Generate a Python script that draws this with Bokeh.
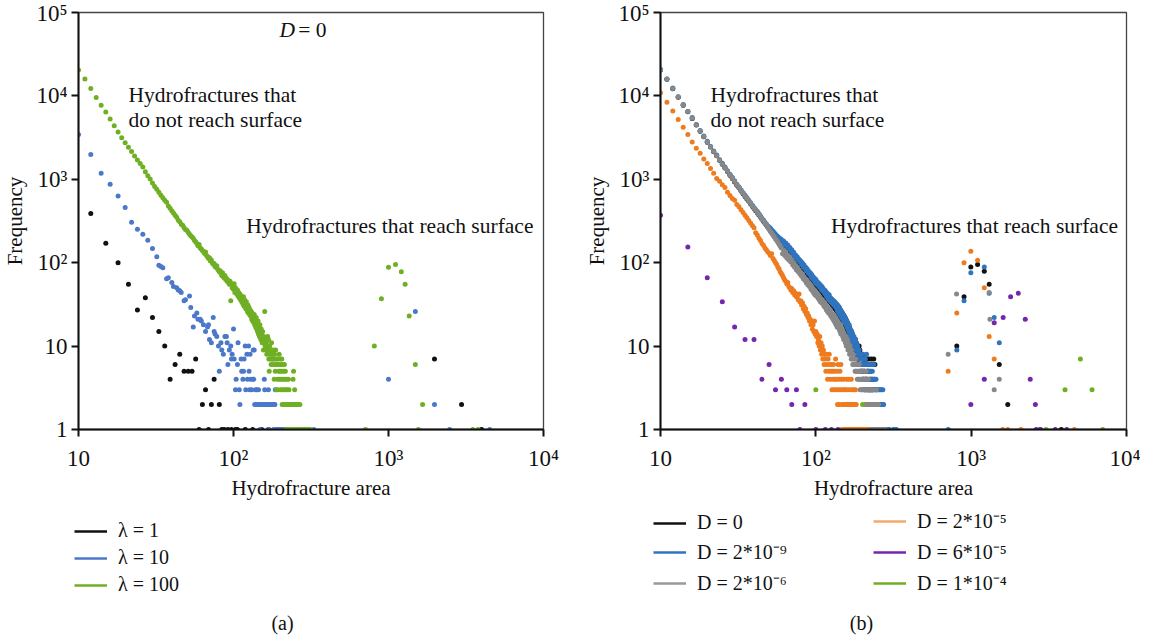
from bokeh.plotting import figure
from bokeh.models import FixedTicker, Label, Legend, LegendItem
from bokeh.layouts import row, column
from bokeh.embed import file_html
from bokeh.resources import INLINE

SERIF = "Liberation Serif"
X_TICKS = [10, 100, 1000, 10000]
X_TICK_LABELS = {10: "10", 100: "10\u00b2", 1000: "10\u00b3", 10000: "10\u2074"}
Y_TICKS = [1, 10, 100, 1000, 10000, 100000]
Y_TICK_LABELS = {1: "1", 10: "10", 100: "10\u00b2", 1000: "10\u00b3",
                 10000: "10\u2074", 100000: "10\u2075"}

# ---------------- panel (a): D = 0, different lambda ----------------
LAM100_START = 10
LAM100_FREQ = [
    20500, 15900, 12300, 9600, 7700, 6400, 5300, 4400, 3700, 3150,
    2750, 2420, 2150, 1900, 1700, 1550, 1400, 1230, 1100, 1010,
    900, 820, 760, 700, 645, 600, 560, 530, 480, 450,
    420, 395, 370, 350, 323, 310, 290, 282, 262, 250,
    245, 232, 220, 210, 204, 196, 185, 178, 170, 160,
    165, 150, 146, 140, 136, 129, 134, 122, 118, 112,
    115, 105, 108, 100, 96, 98, 90, 88, 92, 84,
    81, 78, 80, 74, 70, 76, 68, 66, 70, 63,
    65, 60, 62, 58, 55, 60, 35, 56, 50, 54,
    48, 56, 44, 50, 45, 42, 47, 40, 44, 38,
    42, 36, 40, 34, 38, 32, 39, 30, 36, 33,
    28, 34, 30, 26, 31, 25, 29, 24, 27, 23,
    26, 21, 25, 20, 23, 19, 24, 18, 21, 17,
    22, 16, 19, 15, 20, 14, 17, 13, 18, 15,
    12, 16, 14, 11, 15, 12, 9, 13, 11, 26,
    10, 12, 9, 11, 8, 10, 13, 9, 12, 7,
    5, 10, 8, 7, 9, 6, 11, 7, 8, 7,
    9, 6, 7, 4, 8, 7, 5, 9, 6, 3,
    7, 6, 4, 7, 3, 6, 5, 8, 4, 5,
    7, 6, 3, 4, 5, 7, 2, 6, 3, 4,
    2, 5, 3, 6, 4, 2, 5, 1, 3, 2,
    4, 1, 2, 3, 1, 2, 4, 0, 3, 2,
    1, 2, 0, 1, 2, 0, 1, 2, 1, 0,
    2, 1, 4, 0, 5, 1, 2, 0, 3, 1,
    2, 0, 1, 2, 1, 0, 2, 1, 0, 1,
    2, 1, 0, 1, 2, 0, 1, 0, 2, 1,
    0, 1, 0, 1, 0, 1, 0, 1, 1, 0,
    1, 0, 1, 0, 1, 1, 0, 1, 0, 1,
    0, 1, 1, 0, 1, 0, 1, 0, 0, 1,
    0, 1, 0, 1, 0, 0, 1, 0, 0, 1, 0, 0, 0, 1,
]
LAM100_SURF_AREA = [710, 810, 900, 1000, 1110, 1210, 1280, 1360, 1490, 1560, 1660, 3500, 3780]
LAM100_SURF_FREQ = [1, 10, 37, 88, 95, 78, 55, 23, 6, 1, 2, 1, 1]

LAM10_AREA = [10, 12, 14, 16, 18, 20, 22, 24, 26, 28, 30, 32, 33, 34, 35, 37, 38, 40, 41, 43,
              44, 45, 46, 48, 49, 52, 53, 55, 56, 58, 59, 61, 62, 64, 66, 68, 69, 70, 72, 74,
              75, 76, 78, 80, 81, 83, 84, 86, 88, 90, 91, 92, 94, 96, 97, 98, 100, 101, 103, 104,
              106, 107, 109, 110, 112, 113, 115, 116, 117, 119, 120, 122, 123, 125, 126, 127, 128, 129, 131, 133,
              134, 135, 136, 137, 139, 140, 141, 143, 145, 146, 148, 150, 152, 154, 156, 158, 159, 160, 162, 164,
              166, 168, 169, 171, 173, 175, 177, 179, 181, 183, 185, 186, 188, 191, 195, 199, 203, 207, 212, 216,
              330, 1000, 1490, 1980, 2480, 4500]
LAM10_FREQ = [3450, 1990, 1180, 870, 630, 460, 305, 252, 220, 186, 148, 118, 93, 90, 87, 64, 66, 58, 52, 50,
              47, 46, 44, 35, 36, 40, 29, 17, 23, 25, 21, 21, 20, 18, 15, 17, 18, 12, 11, 22,
              15, 14, 13, 10, 5, 11, 9, 8, 13, 13, 11, 6, 9, 10, 7, 8, 16, 7, 3, 4,
              6, 11, 3, 2, 7, 5, 4, 5, 7, 10, 3, 8, 4, 10, 5, 3, 8, 4, 3, 4,
              9, 4, 9, 2, 3, 2, 3, 2, 3, 2, 1, 2, 2, 2, 2, 4, 3, 2, 2, 2,
              2, 3, 1, 2, 2, 2, 2, 2, 1, 2, 2, 3, 1, 1, 1, 1, 1, 1, 1, 1,
              1, 4, 26, 2, 1, 1]

LAM1_AREA = [12, 15, 18, 21, 24, 27, 30, 33, 36, 39, 42, 45, 48, 51, 54, 57, 60, 63, 66, 69,
             72, 75, 81, 84, 87, 92, 97, 103, 106, 119, 133, 152, 168, 1980, 2960, 3980]
LAM1_FREQ = [390, 171, 100, 55, 27, 38, 22, 15, 10, 4, 6, 8, 5, 5, 5, 7, 1, 2, 3, 1,
             2, 4, 2, 1, 1, 1, 1, 1, 1, 1, 1, 1, 1, 7, 2, 1]

# ---------------- panel (b): lambda = 100, different D ----------------
D0_START = 10
D0_FREQ = [
    20400, 15800, 12200, 9650, 7750, 6450, 5350, 4480, 3780, 3230,
    2790, 2440, 2140, 1910, 1690, 1520, 1370, 1240, 1120, 1020,
    930, 850, 790, 725, 672, 622, 582, 545, 508, 475,
    446, 420, 396, 372, 352, 332, 315, 298, 283, 268,
    256, 243, 233, 222, 213, 203, 196, 187, 180, 172,
    176, 162, 168, 152, 159, 145, 150, 136, 141, 129,
    133, 119, 124, 111, 116, 104, 108, 98, 102, 93,
    97, 88, 92, 83, 86, 79, 82, 75, 78, 71,
    74, 68, 71, 64, 67, 61, 64, 58, 61, 55,
    59, 53, 56, 50, 53, 48, 51, 46, 49, 44,
    47, 43, 45, 41, 44, 39, 42, 37, 40, 36,
    39, 35, 38, 34, 36, 33, 35, 31, 34, 30,
    34, 29, 33, 28, 32, 27, 31, 26, 30, 25,
    29, 24, 28, 23, 27, 22, 26, 21, 25, 20,
    24, 19, 23, 18, 22, 17, 21, 16, 20, 16,
    19, 15, 18, 14, 17, 13, 16, 12, 15, 12,
    15, 11, 14, 10, 13, 10, 12, 9, 12, 9,
    12, 8, 11, 8, 10, 7, 10, 7, 9, 7,
    10, 6, 9, 6, 8, 5, 8, 6, 7, 5,
    8, 5, 7, 4, 7, 5, 6, 3, 7, 4,
    7, 4, 6, 3, 7, 5, 6, 2, 5, 3,
    7, 3, 6, 2, 4, 3, 5, 2, 7, 3,
    4, 2, 6, 3, 2, 1, 7, 2, 4, 1,
    6, 2, 1, 3, 1,
]
D0_SURF_AREA = [808, 900, 995, 1100, 1215, 1306, 1517, 1720, 3800]
D0_SURF_FREQ = [10, 39, 89, 95, 79, 55, 6, 2, 1]

D2E9_START = 10
D2E9_FREQ = [
    20800, 16000, 12400, 9800, 7900, 6500, 5500, 4550, 3850, 3300,
    2850, 2480, 2180, 1950, 1720, 1560, 1400, 1270, 1150, 1050,
    960, 870, 810, 745, 690, 645, 600, 560, 525, 490,
    460, 430, 410, 385, 362, 340, 325, 305, 292, 276,
    268, 258, 246, 238, 228, 220, 212, 205, 198, 194,
    190, 170, 182, 164, 172, 156, 163, 147, 152, 139,
    143, 128, 133, 119, 124, 112, 117, 106, 110, 101,
    105, 95, 99, 89, 94, 85, 88, 80, 84, 76,
    79, 73, 76, 68, 72, 65, 68, 62, 65, 58,
    63, 56, 59, 54, 57, 52, 55, 50, 53, 47,
    51, 46, 48, 44, 47, 42, 45, 40, 43, 38,
    42, 36, 41, 35, 38, 34, 37, 33, 36, 32,
    35, 31, 34, 30, 33, 29, 32, 27, 31, 26,
    30, 25, 29, 24, 27, 23, 26, 22, 25, 21,
    24, 20, 23, 19, 22, 19, 21, 18, 20, 17,
    19, 16, 18, 15, 18, 14, 16, 13, 15, 13,
    15, 12, 14, 11, 13, 11, 13, 10, 12, 10,
    12, 9, 11, 9, 10, 8, 10, 8, 9, 7,
    9, 6, 8, 7, 6, 5, 8, 6, 7, 4,
    8, 6, 5, 7, 4, 6, 5, 3, 7, 4,
    6, 4, 8, 3, 5, 6, 4, 2, 5, 3,
    4, 6, 3, 5, 2, 4, 3, 6, 2, 4,
    3, 5, 2, 4, 3, 2, 6, 3, 2, 4,
    2, 3, 1, 2, 4, 2, 3, 1, 2, 3,
    2, 1, 3, 2, 1, 2, 3, 1, 2, 1,
    3, 2, 1, 2, 1, 3, 2, 1, 2, 1,
    3, 2, 1, 2, 1, 1, 0, 1, 0, 1,
    1, 0, 1, 0, 1, 1, 0, 1, 0, 0,
    1, 0, 0, 1, 0, 0, 0, 0, 1, 0,
]
D2E9_SURF_AREA = [315, 322, 330, 711, 808, 900, 995, 1215, 1306, 1407, 1517, 2750]
D2E9_SURF_FREQ = [1, 1, 1, 1, 9, 35, 76, 89, 43, 22, 11, 1]

D2E6_START = 10
D2E6_FREQ = [
    20500, 15900, 12300, 9700, 7800, 6500, 5400, 4500, 3800, 3250,
    2800, 2450, 2150, 1920, 1700, 1530, 1380, 1250, 1130, 1030,
    940, 860, 800, 730, 680, 630, 590, 550, 515, 480,
    450, 425, 400, 378, 355, 335, 318, 300, 285, 270,
    250, 236, 226, 214, 204, 193, 184, 175, 166, 158,
    150, 128, 142, 122, 134, 114, 124, 108, 116, 102,
    108, 94, 100, 88, 93, 82, 88, 78, 82, 73,
    77, 69, 73, 64, 68, 61, 64, 57, 61, 54,
    58, 52, 55, 48, 52, 46, 49, 43, 47, 41,
    45, 40, 43, 38, 41, 36, 39, 34, 37, 33,
    36, 32, 34, 30, 33, 29, 31, 27, 30, 26,
    29, 25, 28, 24, 27, 23, 25, 22, 24, 21,
    24, 20, 23, 19, 22, 18, 21, 17, 20, 17,
    19, 16, 18, 15, 18, 14, 17, 14, 16, 13,
    15, 12, 14, 12, 13, 11, 13, 10, 12, 10,
    12, 9, 11, 9, 10, 8, 10, 8, 9, 7,
    9, 7, 8, 6, 8, 6, 7, 6, 7, 5,
    7, 5, 6, 5, 6, 4, 6, 5, 4, 5,
    6, 4, 5, 3, 5, 3, 4, 4, 5, 3,
    4, 3, 3, 4, 4, 2, 5, 3, 4, 2,
    3, 5, 2, 4, 3, 2, 3, 1, 4, 2,
    3, 2, 1, 3, 2, 1, 2, 3, 1, 2,
    1, 2, 1, 3, 1, 2, 1, 1, 2, 1,
    2, 1, 1, 2, 1, 1, 3, 1, 1, 2,
    1, 1, 0, 1, 2, 1, 0, 1, 1, 0,
    1, 0, 1, 1, 0, 1, 0, 1, 0, 1,
    0, 1, 0, 1, 0, 0, 1, 0, 0, 1, 1,
]
D2E6_SURF_AREA = [711, 805, 1306, 1320, 1407, 1517]
D2E6_SURF_FREQ = [8, 42, 44, 21, 3, 4]

D2E5_START = 10
D2E5_FREQ = [
    10900, 8400, 6600, 5200, 4200, 3450, 2800, 2350, 2050, 1750,
    1550, 1350, 1180, 1020, 950, 860, 800, 700, 640, 590,
    560, 500, 470, 430, 400, 370, 345, 320, 300, 280,
    262, 228, 215, 196, 185, 170, 162, 150, 143, 135,
    130, 122, 128, 112, 106, 100, 95, 88, 84, 78,
    74, 70, 66, 62, 60, 56, 58, 52, 50, 47,
    49, 44, 46, 41, 43, 39, 40, 36, 42, 34,
    35, 31, 33, 28, 30, 26, 28, 24, 25, 22,
    23, 20, 21, 18, 20, 16, 18, 15, 20, 14,
    15, 13, 14, 11, 12, 10, 13, 9, 11, 8,
    10, 7, 9, 6, 8, 7, 5, 8, 6, 4,
    7, 5, 8, 6, 4, 5, 6, 3, 5, 4,
    6, 3, 5, 4, 7, 3, 4, 5, 2, 6,
    3, 4, 2, 5, 3, 6, 4, 1, 2, 3,
    2, 4, 1, 3, 2, 1, 3, 2, 4, 1,
    2, 3, 1, 4, 2, 1, 3, 2, 1, 4,
    1, 2, 3, 1, 2, 1, 3, 1, 2, 1,
    3, 1, 2, 1, 0, 1, 1, 0, 1, 1,
    0, 1, 1, 0, 1, 0, 1, 1, 0, 1,
    1, 0, 1, 0, 1, 1, 0, 1, 0, 1, 0, 1, 0, 1,
]
D2E5_SURF_AREA = [711, 808, 900, 995, 1100, 1215, 1306, 1407, 1595, 1720, 2090, 4620]
D2E5_SURF_FREQ = [5, 25, 100, 137, 107, 50, 13, 7, 1, 1, 1, 1]

D6E5_AREA = [10, 15, 20, 25, 30, 35, 40, 45, 50, 55, 60, 65, 70, 75, 79, 85, 100, 115, 126, 139,
             995, 1215, 1407, 1607, 1795, 2010, 2230, 2400, 2590, 2620, 2800, 3480, 4120]
D6E5_FREQ = [371, 154, 66, 34, 17, 12, 12, 4, 6, 3, 4, 3, 2, 3, 1, 2, 1, 1, 1, 1,
             2, 4, 19, 22, 39, 43, 21, 4, 2, 1, 1, 1, 1]

D1E4_AREA = [100, 200, 3030, 4020, 5050, 6000, 7030]
D1E4_FREQ = [3, 2, 1, 3, 7, 3, 1]

LEGEND_A = ["\u03bb = 1", "\u03bb = 10", "\u03bb = 100"]
LEGEND_B1 = ["D = 0", "D = 2*10\u207b\u2079", "D = 2*10\u207b\u2076"]
LEGEND_B2 = ["D = 2*10\u207b\u2075", "D = 6*10\u207b\u2075", "D = 1*10\u207b\u2074"]

C_BLACK, C_BLUE_A, C_GREEN = "#111111", "#4C78CA", "#6FAF24"
C_BLUE_B, C_GRAY, C_ORANGE, C_PURPLE = "#2F74BF", "#888888", "#EE7B1E", "#7525AE"
NAN = float("nan")


def consecutive(start, freqs, extra_area=(), extra_freq=()):
    xs = [start + i for i, f in enumerate(freqs) if f > 0]
    ys = [f for f in freqs if f > 0]
    return xs + list(extra_area), ys + list(extra_freq)


def make_panel(frame_w, border_l, border_r):
    p = figure(x_axis_type="log", y_axis_type="log",
               x_range=(10, 10000), y_range=(1, 100000),
               frame_width=frame_w, frame_height=417,
               min_border_left=border_l, min_border_right=border_r,
               min_border_top=12, min_border_bottom=76,
               output_backend="svg", toolbar_location=None)
    p.grid.visible = False
    p.outline_line_color = "#444444"
    p.outline_line_width = 1.3
    p.xaxis.ticker = FixedTicker(ticks=X_TICKS, minor_ticks=[])
    p.yaxis.ticker = FixedTicker(ticks=Y_TICKS, minor_ticks=[])
    p.xaxis.major_label_overrides = X_TICK_LABELS
    p.yaxis.major_label_overrides = Y_TICK_LABELS
    for ax in (p.xaxis, p.yaxis):
        ax.axis_line_color = "#111111"
        ax.axis_line_width = 2
        ax.major_tick_line_color = "#111111"
        ax.major_tick_line_width = 2
        ax.major_tick_out = 7
        ax.major_tick_in = 0
        ax.minor_tick_line_color = None
        ax.major_label_text_font = SERIF
        ax.major_label_text_font_size = "23px"
        ax.major_label_text_color = "#111111"
        ax.axis_label_text_font = SERIF
        ax.axis_label_text_font_size = "21px"
        ax.axis_label_text_font_style = "normal"
        ax.axis_label_text_color = "#111111"
    p.xaxis.major_label_standoff = 9
    p.yaxis.major_label_standoff = 4
    p.xaxis.axis_label = "Hydrofracture area"
    p.yaxis.axis_label = "Frequency"
    p.xaxis.axis_label_standoff = 2
    p.yaxis.axis_label_standoff = 6
    return p


def make_legend_panel(width, height):
    p = figure(x_range=(0, width), y_range=(0, height),
               frame_width=width, frame_height=height, min_border=0,
               output_backend="svg", toolbar_location=None)
    p.axis.visible = False
    p.grid.visible = False
    p.outline_line_color = None
    return p


def text(p, x, y, s, size="21.5px", style="normal", align="left"):
    p.add_layout(Label(x=x, y=y, text=s, text_font=SERIF, text_font_size=size,
                       text_font_style=style, text_align=align,
                       text_baseline="middle", text_color="#111111"))


def add_legend(p, labels, colors, dx, dy):
    items = [LegendItem(label=lab,
                        renderers=[p.line(x=[NAN], y=[NAN], line_color=c, line_width=2.6)])
             for lab, c in zip(labels, colors)]
    leg = Legend(items=items, location=(dx, dy), orientation="vertical",
                 padding=0, margin=0, spacing=4, glyph_width=33, glyph_height=22,
                 label_height=22, label_standoff=11,
                 label_text_font=SERIF, label_text_font_size="20px",
                 label_text_color="#111111",
                 border_line_alpha=0, background_fill_alpha=0)
    p.add_layout(leg)


def dots(p, xs, ys, color):
    p.scatter(xs, ys, size=5, fill_color=color, line_color=None, marker="circle")


# ---- panel (a) ----
pa = make_panel(465, 72, 33)
dots(pa, LAM1_AREA, LAM1_FREQ, C_BLACK)
dots(pa, LAM10_AREA, LAM10_FREQ, C_BLUE_A)
gx, gy = consecutive(LAM100_START, LAM100_FREQ, LAM100_SURF_AREA, LAM100_SURF_FREQ)
dots(pa, gx, gy, C_GREEN)
text(pa, 198, 61000, "D", style="italic")
text(pa, 262, 61000, "= 0")
text(pa, 21, 10200, "Hydrofractures that")
text(pa, 21, 5100, "do not reach surface")
text(pa, 121, 275, "Hydrofractures that reach surface")

# ---- panel (b) ----
pb = make_panel(466, 84, 14)
x0, y0 = consecutive(D0_START, D0_FREQ, D0_SURF_AREA, D0_SURF_FREQ)
x1, y1 = consecutive(D2E9_START, D2E9_FREQ, D2E9_SURF_AREA, D2E9_SURF_FREQ)
x2, y2 = consecutive(D2E6_START, D2E6_FREQ, D2E6_SURF_AREA, D2E6_SURF_FREQ)
x3, y3 = consecutive(D2E5_START, D2E5_FREQ, D2E5_SURF_AREA, D2E5_SURF_FREQ)
dots(pb, x0, y0, C_BLACK)
dots(pb, x1, y1, C_BLUE_B)
dots(pb, x2, y2, C_GRAY)
dots(pb, x3, y3, C_ORANGE)
dots(pb, D6E5_AREA, D6E5_FREQ, C_PURPLE)
dots(pb, D1E4_AREA, D1E4_FREQ, C_GREEN)
text(pb, 21, 10200, "Hydrofractures that")
text(pb, 21, 5100, "do not reach surface")
text(pb, 125, 275, "Hydrofractures that reach surface")

# ---- legend / caption strips ----
LEG_H = 130
la = make_legend_panel(570, LEG_H)
add_legend(la, LEGEND_A, [C_BLACK, C_BLUE_A, C_GREEN], 74, 39)
text(la, 282, 13, "(a)", size="20px", align="center")

lb = make_legend_panel(564, LEG_H)
add_legend(lb, LEGEND_B1, [C_BLACK, C_BLUE_B, "#999999"], 83, 39)
add_legend(lb, LEGEND_B2, ["#F5A96B", C_PURPLE, C_GREEN], 303, 39)
text(lb, 291, 13, "(b)", size="20px", align="center")

layout = column(row(pa, pb), row(la, lb))
open("out.html", "w").write(file_html(layout, INLINE))
